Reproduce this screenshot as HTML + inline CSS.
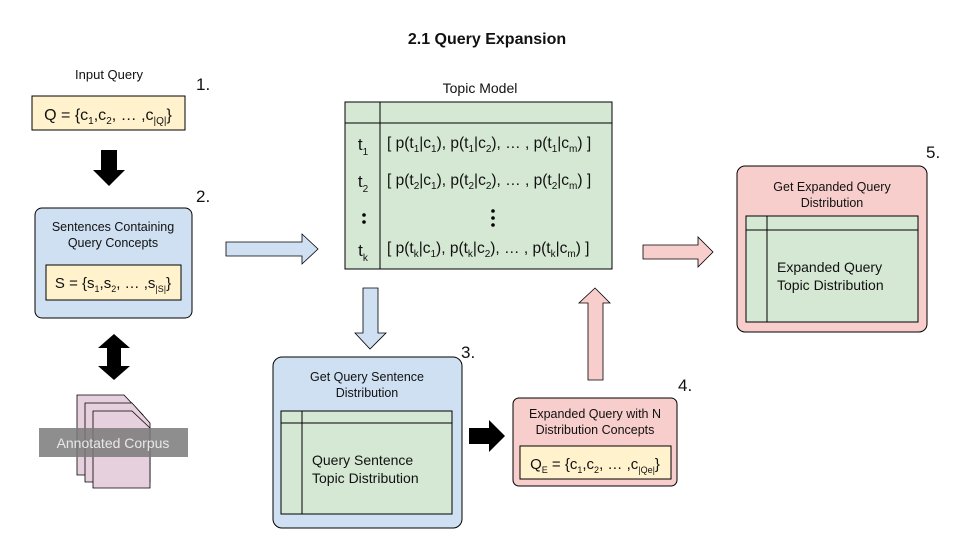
<!DOCTYPE html>
<html><head><meta charset="utf-8"><style>
html,body{margin:0;padding:0;background:#fff}
svg{display:block}
text{font-family:"Liberation Sans",Arial,sans-serif;fill:#111}
</style></head><body>
<svg width="960" height="540" viewBox="0 0 960 540" xmlns="http://www.w3.org/2000/svg">
<text x="487" y="44" font-size="16" font-weight="bold" text-anchor="middle">2.1 Query Expansion</text>

<!-- 1 -->
<text x="109" y="79" font-size="13" text-anchor="middle">Input Query</text>
<text x="196" y="90" font-size="17">1.</text>
<rect x="32" y="96" width="153" height="34" fill="#fff2cc" stroke="#000"/>
<text x="108" y="120" font-size="16" text-anchor="middle">Q = {c<tspan font-size="10" dy="4">1</tspan><tspan dy="-4">,c</tspan><tspan font-size="10" dy="4">2</tspan><tspan dy="-4">, … ,c</tspan><tspan font-size="10" dy="4">|Q|</tspan><tspan dy="-4">}</tspan></text>

<polygon points="101,150 117,150 117,170 125,170 109,186 93,170 101,170" fill="#000"/>

<!-- 2 -->
<text x="196" y="202" font-size="17">2.</text>
<rect x="35" y="208" width="157" height="110" rx="7" fill="#cfe0f2" stroke="#000"/>
<text x="113" y="231" font-size="12.5" text-anchor="middle">Sentences Containing</text>
<text x="113" y="247" font-size="12.5" text-anchor="middle">Query Concepts</text>
<rect x="46" y="265" width="135" height="35" fill="#fff2cc" stroke="#000"/>
<text x="113" y="288" font-size="15" text-anchor="middle">S = {s<tspan font-size="9" dy="4">1</tspan><tspan dy="-4">,s</tspan><tspan font-size="9" dy="4">2</tspan><tspan dy="-4">, … ,s</tspan><tspan font-size="9" dy="4">|S|</tspan><tspan dy="-4">}</tspan></text>

<polygon points="114,334 130,348 121,348 121,366 130,366 114,380 98,366 107,366 107,348 98,348" fill="#000"/>

<g fill="#e6d0de" stroke="#000" stroke-width="0.8">
<path d="M77,395 L124,395 L143,415 L143,475 L77,475 Z"/>
<path d="M85,403 L132,403 L150,423 L150,482 L85,482 Z"/>
<path d="M93,411 L132,411 L150,428 L150,488 L93,488 Z"/>
</g>
<rect x="39" y="428" width="149" height="29" fill="#7a7a7a" opacity="0.85"/>
<text x="113" y="448" font-size="14" text-anchor="middle" style="fill:#e8e8e8">Annotated Corpus</text>

<polygon points="226,242 302,242 302,234 318,249 302,264 302,256 226,256" fill="#cfe0f2" stroke="#000" stroke-width="0.8"/>

<!-- Topic model -->
<text x="480" y="93" font-size="14" text-anchor="middle">Topic Model</text>
<rect x="345" y="102" width="267" height="167" fill="#d5e8d4" stroke="#000"/>
<line x1="345" y1="123" x2="612" y2="123" stroke="#000"/>
<line x1="380" y1="102" x2="380" y2="269" stroke="#000"/>
<g font-size="17" text-anchor="middle">
<text x="363" y="150">t<tspan font-size="10" dy="5">1</tspan></text>
<text x="363" y="187">t<tspan font-size="10" dy="5">2</tspan></text>
<text x="363" y="256">t<tspan font-size="10" dy="5">k</tspan></text>
</g>
<circle cx="364" cy="215" r="1.8" fill="#000"/><circle cx="364" cy="222" r="1.8" fill="#000"/>
<circle cx="493" cy="211" r="1.8" fill="#000"/><circle cx="493" cy="218" r="1.8" fill="#000"/><circle cx="493" cy="225" r="1.8" fill="#000"/>
<g font-size="15.5">
<text x="387" y="148">[ p(t<tspan font-size="10" dy="4">1</tspan><tspan dy="-4">|c</tspan><tspan font-size="10" dy="4">1</tspan><tspan dy="-4">), p(t</tspan><tspan font-size="10" dy="4">1</tspan><tspan dy="-4">|c</tspan><tspan font-size="10" dy="4">2</tspan><tspan dy="-4">), … , p(t</tspan><tspan font-size="10" dy="4">1</tspan><tspan dy="-4">|c</tspan><tspan font-size="10" dy="4">m</tspan><tspan dy="-4">) ]</tspan></text>
<text x="387" y="185">[ p(t<tspan font-size="10" dy="4">2</tspan><tspan dy="-4">|c</tspan><tspan font-size="10" dy="4">1</tspan><tspan dy="-4">), p(t</tspan><tspan font-size="10" dy="4">2</tspan><tspan dy="-4">|c</tspan><tspan font-size="10" dy="4">2</tspan><tspan dy="-4">), … , p(t</tspan><tspan font-size="10" dy="4">2</tspan><tspan dy="-4">|c</tspan><tspan font-size="10" dy="4">m</tspan><tspan dy="-4">) ]</tspan></text>
<text x="387" y="253">[ p(t<tspan font-size="10" dy="4">k</tspan><tspan dy="-4">|c</tspan><tspan font-size="10" dy="4">1</tspan><tspan dy="-4">), p(t</tspan><tspan font-size="10" dy="4">k</tspan><tspan dy="-4">|c</tspan><tspan font-size="10" dy="4">2</tspan><tspan dy="-4">), … , p(t</tspan><tspan font-size="10" dy="4">k</tspan><tspan dy="-4">|c</tspan><tspan font-size="10" dy="4">m</tspan><tspan dy="-4">) ]</tspan></text>
</g>

<polygon points="363,288 378,288 378,333 386,333 370,349 355,333 363,333" fill="#cfe0f2" stroke="#000" stroke-width="0.8"/>

<!-- 3 -->
<text x="461" y="358" font-size="17">3.</text>
<rect x="273" y="357" width="189" height="171" rx="9" fill="#cfe0f2" stroke="#000"/>
<text x="367" y="381" font-size="12.5" text-anchor="middle">Get Query Sentence</text>
<text x="367" y="397" font-size="12.5" text-anchor="middle">Distribution</text>
<rect x="281" y="411" width="171" height="103" fill="#d5e8d4" stroke="#000"/>
<line x1="281" y1="423" x2="452" y2="423" stroke="#000"/>
<line x1="302" y1="411" x2="302" y2="514" stroke="#000"/>
<text x="312" y="465" font-size="14">Query Sentence</text>
<text x="312" y="483" font-size="14">Topic Distribution</text>

<polygon points="469,428 489,428 489,420 505,436 489,452 489,444 469,444" fill="#000"/>

<!-- 4 -->
<text x="678" y="391" font-size="17">4.</text>
<rect x="513" y="398" width="164" height="88" rx="6" fill="#f8cecc" stroke="#000"/>
<text x="595" y="418" font-size="12.5" text-anchor="middle">Expanded Query with N</text>
<text x="595" y="434" font-size="12.5" text-anchor="middle">Distribution Concepts</text>
<rect x="520" y="446" width="151" height="33" fill="#fff2cc" stroke="#000"/>
<text x="595" y="469" font-size="15" text-anchor="middle">Q<tspan font-size="9" dy="4">E</tspan><tspan dy="-4"> = {c</tspan><tspan font-size="9" dy="4">1</tspan><tspan dy="-4">,c</tspan><tspan font-size="9" dy="4">2</tspan><tspan dy="-4">, … ,c</tspan><tspan font-size="9" dy="4">|Qe|</tspan><tspan dy="-4">}</tspan></text>

<polygon points="588,380 603,380 603,303 610,303 595,288 579,303 588,303" fill="#f8cecc" stroke="#000" stroke-width="0.8"/>
<polygon points="643,245 698,245 698,237 713,252 698,267 698,259 643,259" fill="#f8cecc" stroke="#000" stroke-width="0.8"/>

<!-- 5 -->
<text x="926" y="158" font-size="17">5.</text>
<rect x="737" y="166" width="190" height="166" rx="8" fill="#f8cecc" stroke="#000"/>
<text x="832" y="191" font-size="12.5" text-anchor="middle">Get Expanded Query</text>
<text x="832" y="207" font-size="12.5" text-anchor="middle">Distribution</text>
<rect x="746" y="216" width="172" height="106" fill="#d5e8d4" stroke="#000"/>
<line x1="746" y1="230" x2="918" y2="230" stroke="#000"/>
<line x1="767" y1="216" x2="767" y2="322" stroke="#000"/>
<text x="777" y="272" font-size="14">Expanded Query</text>
<text x="777" y="290" font-size="14">Topic Distribution</text>
</svg>
</body></html>
